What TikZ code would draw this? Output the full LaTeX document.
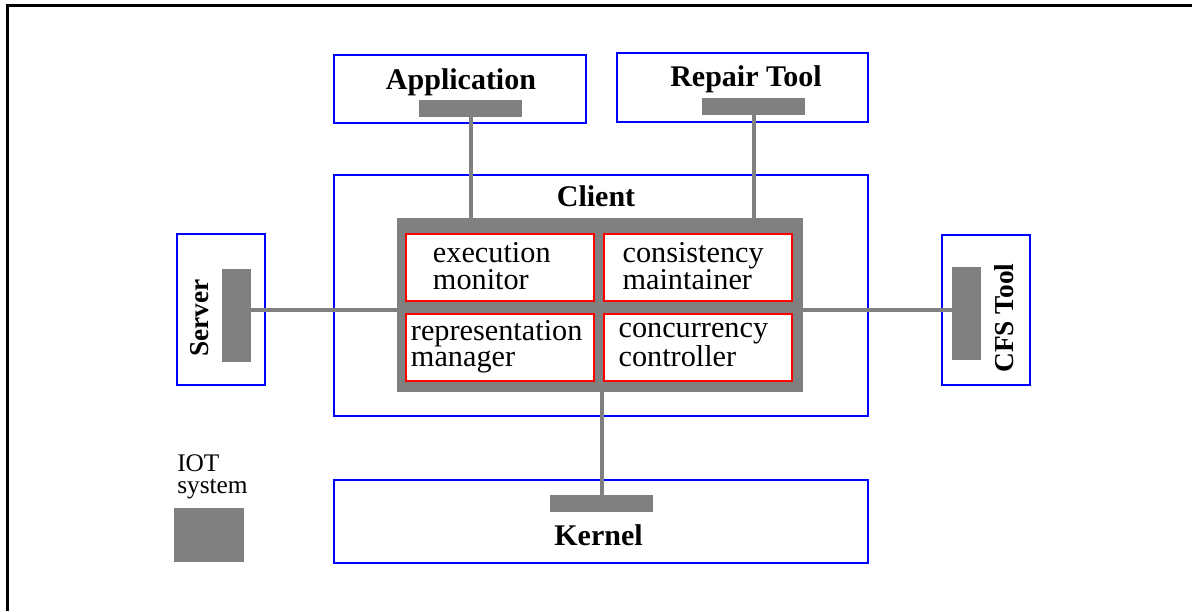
\documentclass[tikz,border=0pt]{standalone}
\usepackage{fontspec}
\setmainfont{Liberation Serif}
\usetikzlibrary{fit}
\definecolor{boxblue}{RGB}{0,0,255}
\definecolor{boxred}{RGB}{255,0,0}
\definecolor{bargray}{RGB}{128,128,128}
\begin{document}
\begin{tikzpicture}[x=0.75pt,y=-0.75pt,
  outer/.style={draw=boxblue,line width=1.5pt,inner sep=0pt},
  part/.style={draw=boxred,line width=1.5pt,fill=white,inner sep=0pt},
  bar/.style={fill=bargray,inner sep=0pt},
  conn/.style={draw=bargray,line width=3pt},
  title/.style={font=\fontsize{22.5}{27}\selectfont\bfseries,inner sep=0pt,anchor=base},
  side/.style={font=\fontsize{20.5}{24}\selectfont\bfseries,inner sep=0pt,rotate=90},
  partlabel/.style={font=\fontsize{22.7}{20}\selectfont,align=left,inner sep=0pt,anchor=base west},
  legendlabel/.style={font=\fontsize{19}{16.5}\selectfont,align=left,inner sep=0pt,anchor=base west}]
\useasboundingbox (0,0) rectangle (1192,611);

% page frame (top and left edges)
\draw[line width=2.6pt] (7.5,611) -- (7.5,5.5) -- (1192,5.5);

% outer components
\node[outer,fit={(334,55)(586,123)}] (app) {};
\node[outer,fit={(617,53)(868,122)}] (repair) {};
\node[outer,fit={(334,175)(868,416)}] (client) {};
\node[outer,fit={(334,480)(868,563)}] (kernel) {};
\node[outer,fit={(177,234)(265,385)}] (server) {};
\node[outer,fit={(942,235)(1030,385)}] (cfs) {};

% client core with its four parts
\node[bar,fit={(397,218)(803,392)}] (core) {};
\node[part,fit={(406,234)(594,301)}] (exec) {};
\node[part,fit={(604,234)(792,301)}] (consist) {};
\node[part,fit={(406,314)(594,381)}] (repr) {};
\node[part,fit={(604,314)(792,381)}] (concur) {};

% interface bars
\node[bar,fit={(419,100)(522,117)}] (appbar) {};
\node[bar,fit={(702,98)(805,115)}] (repairbar) {};
\node[bar,fit={(550,495)(653,512)}] (kernelbar) {};
\node[bar,fit={(222,269)(251,362)}] (serverbar) {};
\node[bar,fit={(952,267)(981,360)}] (cfsbar) {};
\node[bar,fit={(174,508)(244,562)}] (iotkey) {};

% connections
\coordinate (tie) at (0,310);
\draw[conn] (appbar.south) -- (appbar.south |- core.north);
\draw[conn] (repairbar.south) -- (repairbar.south |- core.north);
\draw[conn] (core.south -| kernelbar.north) -- (kernelbar.north);
\draw[conn] (serverbar.east |- tie) -- (core.west |- tie);
\draw[conn] (core.east |- tie) -- (cfsbar.west |- tie);

% labels
\node[title] (applabel) at (461,89.3) {Application};
\node[title] (repairlabel) at (746,86.7) {Repair Tool};
\node[title] (clientlabel) at (596,206.7) {Client};
\node[title] (kernellabel) at (598.5,545) {Kernel};
\node[side] (serverlabel) at (200,318) {Server};
\node[side] (cfslabel) at (1004,318) {CFS Tool};

% two-line labels: the base anchor sits on the last line
\node[partlabel] (execlabel) at (432.7,289.3) {execution\\monitor};
\node[partlabel] (consistlabel) at (622.3,289.3) {consistency\\maintainer};
\node[partlabel] (reprlabel) at (410.7,366.7) {representation\\manager};
\node[partlabel] (concurlabel) at (618.3,366.7) {concurrency\\controller};

\node[legendlabel] (iotlabel) at (177,493) {IOT\\system};
\end{tikzpicture}
\end{document}
